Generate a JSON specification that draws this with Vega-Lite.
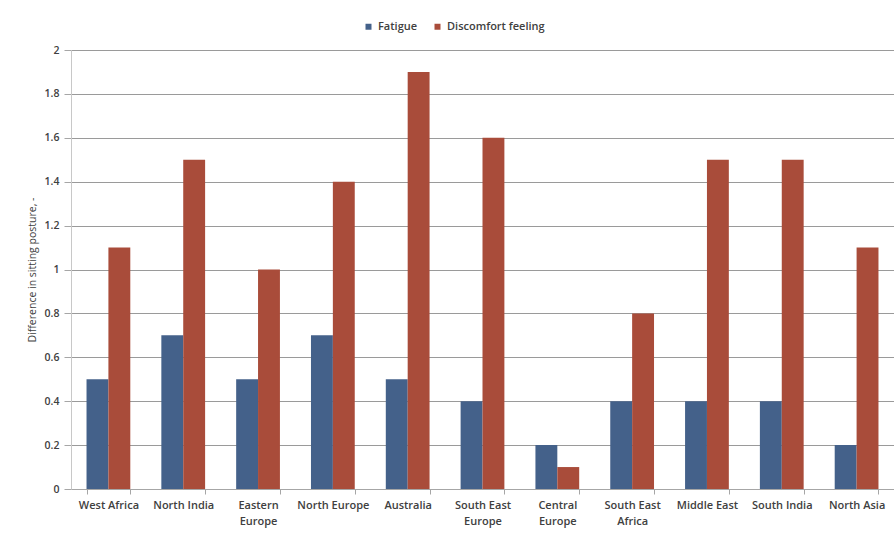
{
  "$schema": "https://vega.github.io/schema/vega-lite/v6.json",
  "autosize": "none",
  "width": 823,
  "height": 439,
  "padding": {"left": 71, "top": 50, "right": 0, "bottom": 45},
  "background": "white",
  "config": {
    "view": {"stroke": null},
    "font": "Open Sans",
    "axis": {"labelFont": "Open Sans", "titleFont": "Open Sans", "labelColor": "#404040", "titleColor": "#404040"}
  },
  "data": {
    "values": [
      {"region": "West Africa", "measure": "Fatigue", "value": 0.5},
      {"region": "West Africa", "measure": "Discomfort feeling", "value": 1.1},
      {"region": "North India", "measure": "Fatigue", "value": 0.7},
      {"region": "North India", "measure": "Discomfort feeling", "value": 1.5},
      {"region": "Eastern Europe", "measure": "Fatigue", "value": 0.5},
      {"region": "Eastern Europe", "measure": "Discomfort feeling", "value": 1.0},
      {"region": "North Europe", "measure": "Fatigue", "value": 0.7},
      {"region": "North Europe", "measure": "Discomfort feeling", "value": 1.4},
      {"region": "Australia", "measure": "Fatigue", "value": 0.5},
      {"region": "Australia", "measure": "Discomfort feeling", "value": 1.9},
      {"region": "South East Europe", "measure": "Fatigue", "value": 0.4},
      {"region": "South East Europe", "measure": "Discomfort feeling", "value": 1.6},
      {"region": "Central Europe", "measure": "Fatigue", "value": 0.2},
      {"region": "Central Europe", "measure": "Discomfort feeling", "value": 0.1},
      {"region": "South East Africa", "measure": "Fatigue", "value": 0.4},
      {"region": "South East Africa", "measure": "Discomfort feeling", "value": 0.8},
      {"region": "Middle East", "measure": "Fatigue", "value": 0.4},
      {"region": "Middle East", "measure": "Discomfort feeling", "value": 1.5},
      {"region": "South India", "measure": "Fatigue", "value": 0.4},
      {"region": "South India", "measure": "Discomfort feeling", "value": 1.5},
      {"region": "North Asia", "measure": "Fatigue", "value": 0.2},
      {"region": "North Asia", "measure": "Discomfort feeling", "value": 1.1}
    ]
  },
  "mark": {"type": "bar"},
  "encoding": {
    "x": {
      "field": "region",
      "type": "nominal",
      "sort": null,
      "scale": {"paddingInner": 0.415, "paddingOuter": 0.2075},
      "axis": {
        "title": null,
        "labelAngle": 0,
        "labelFontSize": 11,
        "labelFontWeight": 600,
        "labelPadding": 5,
        "labelLineHeight": 16,
        "labelExpr": "length(datum.label) > 12 ? [substring(datum.label, 0, lastindexof(datum.label, ' ')), substring(datum.label, lastindexof(datum.label, ' ') + 1)] : datum.label",
        "tickBand": "extent",
        "tickSize": 5,
        "tickColor": "#a6a6a6",
        "domainColor": "#a6a6a6",
        "grid": false
      }
    },
    "xOffset": {"field": "measure", "type": "nominal", "sort": ["Fatigue", "Discomfort feeling"], "scale": {"paddingInner": 0}},
    "y": {
      "field": "value",
      "type": "quantitative",
      "scale": {"domain": [0, 2], "nice": false},
      "axis": {
        "title": "Difference in sitting posture, -",
        "titleFontSize": 10.5,
        "titleFontWeight": "normal",
        "titlePadding": 7,
        "values": [0, 0.2, 0.4, 0.6, 0.8, 1, 1.2, 1.4, 1.6, 1.8, 2],
        "format": "~g",
        "labelFontSize": 10.5,
        "labelFontWeight": 600,
        "labelPadding": 5,
        "tickSize": 7,
        "tickColor": "#a6a6a6",
        "domainColor": "#c8c8c8",
        "gridColor": "#9a9a9a",
        "gridWidth": 1
      }
    },
    "color": {
      "field": "measure",
      "type": "nominal",
      "scale": {"domain": ["Fatigue", "Discomfort feeling"], "range": ["#44618a", "#a94c3a"]},
      "legend": {
        "title": null,
        "orient": "none",
        "direction": "horizontal",
        "legendX": 292,
        "legendY": -29,
        "symbolType": "square",
        "symbolSize": 36,
        "symbolStrokeWidth": 0,
        "labelFontSize": 11,
        "labelFontWeight": 600,
        "labelColor": "#404040",
        "columnPadding": 14,
        "labelOffset": 4
      }
    }
  }
}
